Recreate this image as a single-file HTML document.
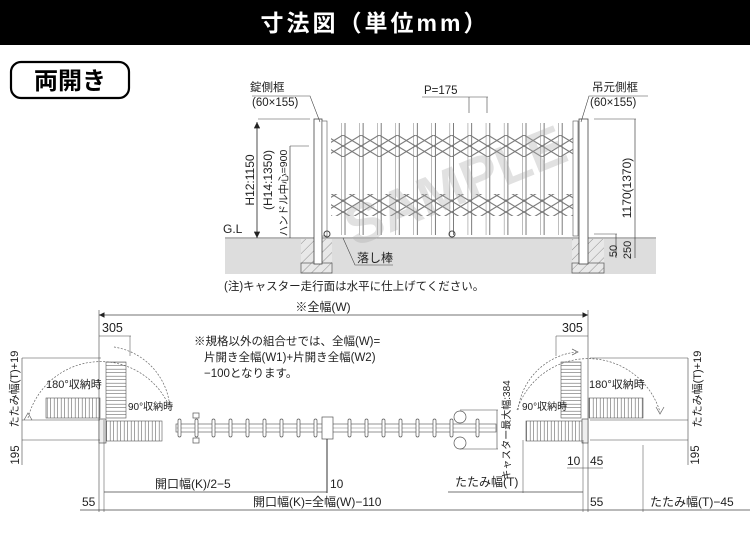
<!DOCTYPE html>
<html><head><meta charset="utf-8"><style>
html,body{margin:0;padding:0;background:#fff}
svg{display:block}
text{font-family:"Liberation Sans","Noto Sans CJK JP",sans-serif;fill:#222}
</style></head><body>
<svg width="750" height="542" viewBox="0 0 750 542" xmlns="http://www.w3.org/2000/svg">
<defs>
<pattern id="bars" x="341" y="0" width="18.1" height="200" patternUnits="userSpaceOnUse">
<rect x="0" y="0" width="4" height="200" fill="#fff" stroke="#444" stroke-width="0.7"/>
</pattern>
<pattern id="lat" x="343" y="135" width="18.1" height="22" patternUnits="userSpaceOnUse">
<path d="M0 0 L18.1 11 L0 22 M18.1 0 L0 11 L18.1 22" stroke="#777" stroke-width="1.1" fill="none"/>
</pattern>
<pattern id="hatch" width="7" height="7" patternUnits="userSpaceOnUse" patternTransform="rotate(45)">
<line x1="0" y1="0" x2="0" y2="7" stroke="#777" stroke-width="0.8"/>
</pattern>
<pattern id="pleatV" width="3.5" height="3" patternUnits="userSpaceOnUse">
<line x1="1.7" y1="0" x2="1.7" y2="3" stroke="#666" stroke-width="0.6"/>
</pattern>
<pattern id="pleatH" width="3" height="3.5" patternUnits="userSpaceOnUse">
<line x1="0" y1="1.7" x2="3" y2="1.7" stroke="#666" stroke-width="0.6"/>
</pattern>
<marker id="ar" viewBox="0 0 10 10" refX="10" refY="5" markerWidth="8" markerHeight="8" orient="auto-start-reverse"><path d="M0 0 L10 5 L0 10z" fill="#222"/></marker>
</defs>

<rect x="0" y="0" width="750" height="45" fill="#000"/>
<text x="375" y="31" text-anchor="middle" font-size="23" font-weight="bold" style="fill:#fff" letter-spacing="3">寸法図（単位mm）</text>
<rect x="11" y="62" width="118" height="36" rx="10" fill="#fff" stroke="#000" stroke-width="2.2"/>
<text x="70" y="89" text-anchor="middle" font-size="24" font-weight="bold" style="fill:#000">両開き</text>

<rect x="225" y="239" width="431" height="35" fill="#ddd"/>
<line x1="225" y1="238" x2="656" y2="238" stroke="#444" stroke-width="0.8"/>
<rect x="301" y="239" width="31" height="34" fill="#e8e8e8"/>
<rect x="301" y="239" width="31" height="34" fill="url(#hatch)"/>
<rect x="301" y="263" width="31" height="10" fill="none" stroke="#555" stroke-width="0.7"/>
<rect x="572" y="239" width="32" height="34" fill="#e8e8e8"/>
<rect x="572" y="239" width="32" height="34" fill="url(#hatch)"/>
<rect x="572" y="263" width="32" height="10" fill="none" stroke="#555" stroke-width="0.7"/>
<text x="223" y="233" font-size="12">G.L</text>
<rect x="314" y="119" width="8" height="145" fill="#fff" stroke="#444" stroke-width="0.8"/>
<rect x="579" y="119" width="9" height="145" fill="#fff" stroke="#444" stroke-width="0.8"/>
<rect x="322" y="121" width="5" height="115" fill="#fff" stroke="#555" stroke-width="0.6"/>
<rect x="573" y="121" width="5" height="115" fill="#fff" stroke="#555" stroke-width="0.6"/>
<rect x="341" y="123" width="222" height="112" fill="url(#bars)"/>
<rect x="331" y="135" width="242" height="22" fill="url(#lat)"/>
<rect x="331" y="194" width="242" height="22" fill="url(#lat)"/>
<circle cx="327" cy="234" r="3" fill="none" stroke="#444"/>
<circle cx="452" cy="234" r="3" fill="none" stroke="#444"/>
<text x="455" y="205" font-size="56" font-weight="bold" text-anchor="middle" style="fill:#aaa;opacity:0.35" transform="rotate(-22 455 185)">SAMPLE</text>
<line x1="257" y1="122" x2="257" y2="238" stroke="#222" stroke-width="0.8" marker-start="url(#ar)" marker-end="url(#ar)"/>
<line x1="258" y1="119" x2="310" y2="119" stroke="#444" stroke-width="0.5"/>
<text transform="translate(254,180) rotate(-90)" text-anchor="middle" font-size="12">H12:1150</text>
<text transform="translate(272,180) rotate(-90)" text-anchor="middle" font-size="12">(H14:1350)</text>
<line x1="290" y1="146" x2="290" y2="238" stroke="#444" stroke-width="0.7"/>
<line x1="290" y1="146" x2="309" y2="146" stroke="#444" stroke-width="0.5"/>
<text transform="translate(287,193) rotate(-90)" text-anchor="middle" font-size="10.5">ハンドル中心=900</text>
<text x="250" y="91" font-size="11.5">錠側框</text>
<text x="252" y="106" font-size="11.5">(60×155)</text>
<polyline points="252,96 310,96 320,122" fill="none" stroke="#444" stroke-width="0.6"/>
<text x="424" y="94" font-size="11.5">P=175</text>
<line x1="422" y1="97" x2="488" y2="97" stroke="#444" stroke-width="0.6"/>
<line x1="469" y1="97" x2="469" y2="113" stroke="#444" stroke-width="0.6"/>
<line x1="487" y1="97" x2="487" y2="113" stroke="#444" stroke-width="0.6"/>
<text x="592" y="91" font-size="11.5">吊元側框</text>
<text x="590" y="106" font-size="11.5">(60×155)</text>
<polyline points="648,96 589,96 581,122" fill="none" stroke="#444" stroke-width="0.6"/>
<line x1="594" y1="119" x2="636" y2="119" stroke="#444" stroke-width="0.5"/>
<line x1="635" y1="119" x2="635" y2="258" stroke="#444" stroke-width="0.7"/>
<text transform="translate(631,188) rotate(-90)" text-anchor="middle" font-size="12">1170(1370)</text>
<line x1="594" y1="234" x2="617" y2="234" stroke="#444" stroke-width="0.5"/>
<line x1="616" y1="234" x2="616" y2="258" stroke="#444" stroke-width="0.7"/>
<text transform="translate(617,251) rotate(-90)" text-anchor="middle" font-size="11">50</text>
<text transform="translate(631,250) rotate(-90)" text-anchor="middle" font-size="11">250</text>
<polyline points="343,238 355,265 393,265" fill="none" stroke="#444" stroke-width="0.6"/>
<text x="357" y="262" font-size="12">落し棒</text>
<text x="224" y="290" font-size="11.5">(注)キャスター走行面は水平に仕上げてください。</text>

<line x1="99" y1="315" x2="588" y2="315" stroke="#444" stroke-width="0.7" marker-start="url(#ar)" marker-end="url(#ar)"/>
<text x="323" y="311" text-anchor="middle" font-size="12">※全幅(W)</text>
<line x1="99" y1="310" x2="99" y2="512" stroke="#444" stroke-width="0.6"/>
<line x1="588" y1="310" x2="588" y2="512" stroke="#444" stroke-width="0.6"/>
<text x="102" y="332" font-size="12.5">305</text>
<line x1="99" y1="336" x2="131" y2="336" stroke="#444" stroke-width="0.6"/>
<line x1="130" y1="336" x2="130" y2="356" stroke="#444" stroke-width="0.5"/>
<text x="562" y="332" font-size="12.5">305</text>
<line x1="556" y1="336" x2="588" y2="336" stroke="#444" stroke-width="0.6"/>
<line x1="556" y1="336" x2="556" y2="356" stroke="#444" stroke-width="0.5"/>
<text x="194" y="345" font-size="11.5">※規格以外の組合せでは、全幅(W)=</text>
<text x="204" y="361" font-size="11.5">片開き全幅(W1)+片開き全幅(W2)</text>
<text x="204" y="377" font-size="11.5">−100となります。</text>

<path d="M28 418 A75 75 0 0 1 170 408" fill="none" stroke="#666" stroke-width="0.7" stroke-dasharray="2,1.5"/>
<path d="M32 420 L28 413 L24 420" fill="none" stroke="#666" stroke-width="0.7"/>
<path d="M114 347 A66 66 0 0 1 170 410" fill="none" stroke="#666" stroke-width="0.7" stroke-dasharray="2,1.5"/>
<rect x="106" y="362" width="20" height="56" fill="url(#pleatH)" stroke="#555" stroke-width="0.6"/>
<rect x="46" y="398" width="54" height="20" fill="url(#pleatV)" stroke="#555" stroke-width="0.6"/>
<rect x="104" y="421" width="58" height="20" fill="url(#pleatV)" stroke="#555" stroke-width="0.6"/>
<rect x="99" y="419" width="7" height="24" fill="#eee" stroke="#555" stroke-width="0.7"/>
<text x="46" y="388" font-size="11">180°収納時</text>
<text x="128" y="410" font-size="10">90°収納時</text>
<line x1="22" y1="358" x2="101" y2="358" stroke="#444" stroke-width="0.5"/>
<line x1="22" y1="420" x2="100" y2="420" stroke="#444" stroke-width="0.5"/>
<line x1="22" y1="440" x2="100" y2="440" stroke="#444" stroke-width="0.5"/>
<line x1="22" y1="358" x2="22" y2="465" stroke="#444" stroke-width="0.6"/>
<text transform="translate(18,389) rotate(-90)" text-anchor="middle" font-size="11">たたみ幅(T)+19</text>
<text transform="translate(19,455) rotate(-90)" text-anchor="middle" font-size="11.5">195</text>
<line x1="104" y1="420" x2="104" y2="512" stroke="#444" stroke-width="0.5"/>

<rect x="176" y="424" width="320" height="8" fill="none" stroke="#666" stroke-width="0.7"/>
<line x1="176" y1="428" x2="496" y2="428" stroke="#aaa" stroke-width="0.7"/>
<g fill="#fff" stroke="#555" stroke-width="0.7">
<rect x="178" y="419" width="3" height="18" rx="1.5"/><rect x="195" y="419" width="3" height="18" rx="1.5"/>
<rect x="212" y="419" width="3" height="18" rx="1.5"/><rect x="229" y="419" width="3" height="18" rx="1.5"/>
<rect x="246" y="419" width="3" height="18" rx="1.5"/><rect x="263" y="419" width="3" height="18" rx="1.5"/>
<rect x="280" y="419" width="3" height="18" rx="1.5"/><rect x="297" y="419" width="3" height="18" rx="1.5"/>
<rect x="314" y="419" width="3" height="18" rx="1.5"/><rect x="322" y="417" width="11" height="22"/>
<rect x="348" y="419" width="3" height="18" rx="1.5"/><rect x="365" y="419" width="3" height="18" rx="1.5"/>
<rect x="382" y="419" width="3" height="18" rx="1.5"/><rect x="399" y="419" width="3" height="18" rx="1.5"/>
<rect x="416" y="419" width="3" height="18" rx="1.5"/><rect x="433" y="419" width="3" height="18" rx="1.5"/>
<rect x="450" y="419" width="3" height="18" rx="1.5"/><rect x="476" y="419" width="3" height="18" rx="1.5"/>
<rect x="193" y="413" width="6" height="5"/><rect x="193" y="438" width="6" height="5"/>
</g>
<circle cx="460" cy="417" r="6" fill="#fff" stroke="#555" stroke-width="0.7"/>
<circle cx="460" cy="443" r="6" fill="#fff" stroke="#555" stroke-width="0.7"/>
<line x1="460" y1="410" x2="498" y2="410" stroke="#444" stroke-width="0.5"/>
<line x1="460" y1="449" x2="498" y2="449" stroke="#444" stroke-width="0.5"/>
<line x1="497" y1="410" x2="497" y2="449" stroke="#444" stroke-width="0.6"/>
<text transform="translate(510,430) rotate(-90)" text-anchor="middle" font-size="10">キャスター最大幅:384</text>
<line x1="327" y1="439" x2="327" y2="493" stroke="#333" stroke-width="1"/>

<path d="M517 410 A75 75 0 0 1 660 412" fill="none" stroke="#666" stroke-width="0.7" stroke-dasharray="2,1.5"/>
<path d="M656 407 L660 414 L664 407" fill="none" stroke="#666" stroke-width="0.7"/>
<path d="M518 410 A66 66 0 0 1 576 352" fill="none" stroke="#666" stroke-width="0.7" stroke-dasharray="2,1.5"/>
<path d="M572 349 L578 352 L572 355" fill="none" stroke="#666" stroke-width="0.7"/>
<rect x="561" y="362" width="20" height="56" fill="url(#pleatH)" stroke="#555" stroke-width="0.6"/>
<rect x="589" y="398" width="54" height="20" fill="url(#pleatV)" stroke="#555" stroke-width="0.6"/>
<rect x="526" y="421" width="56" height="20" fill="url(#pleatV)" stroke="#555" stroke-width="0.6"/>
<rect x="582" y="419" width="6" height="24" fill="#eee" stroke="#555" stroke-width="0.7"/>
<text x="589" y="388" font-size="11">180°収納時</text>
<text x="522" y="410" font-size="10">90°収納時</text>
<line x1="590" y1="358" x2="688" y2="358" stroke="#444" stroke-width="0.5"/>
<line x1="590" y1="420" x2="688" y2="420" stroke="#444" stroke-width="0.5"/>
<line x1="590" y1="440" x2="688" y2="440" stroke="#444" stroke-width="0.5"/>
<line x1="688" y1="358" x2="688" y2="465" stroke="#444" stroke-width="0.6"/>
<text transform="translate(701,389) rotate(-90)" text-anchor="middle" font-size="11">たたみ幅(T)+19</text>
<text transform="translate(699,455) rotate(-90)" text-anchor="middle" font-size="11.5">195</text>
<line x1="583" y1="440" x2="583" y2="512" stroke="#444" stroke-width="0.5"/>
<line x1="523" y1="440" x2="523" y2="493" stroke="#444" stroke-width="0.5"/>
<line x1="643" y1="445" x2="643" y2="512" stroke="#444" stroke-width="0.5"/>
<line x1="567" y1="468" x2="603" y2="468" stroke="#444" stroke-width="0.5"/>
<text x="567" y="465" font-size="12">10</text>
<text x="590" y="465" font-size="12">45</text>

<line x1="104" y1="492" x2="327" y2="492" stroke="#444" stroke-width="0.7"/>
<text x="155" y="488" font-size="12">開口幅(K)/2−5</text>
<text x="330" y="488" font-size="12">10</text>
<line x1="448" y1="492" x2="583" y2="492" stroke="#444" stroke-width="0.7"/>
<text x="455" y="486" font-size="12">たたみ幅(T)</text>
<line x1="80" y1="510" x2="750" y2="510" stroke="#444" stroke-width="0.7"/>
<text x="82" y="506" font-size="12">55</text>
<text x="253" y="506" font-size="12">開口幅(K)=全幅(W)−110</text>
<text x="590" y="506" font-size="12">55</text>
<text x="650" y="506" font-size="12">たたみ幅(T)−45</text>
</svg>
</body></html>
